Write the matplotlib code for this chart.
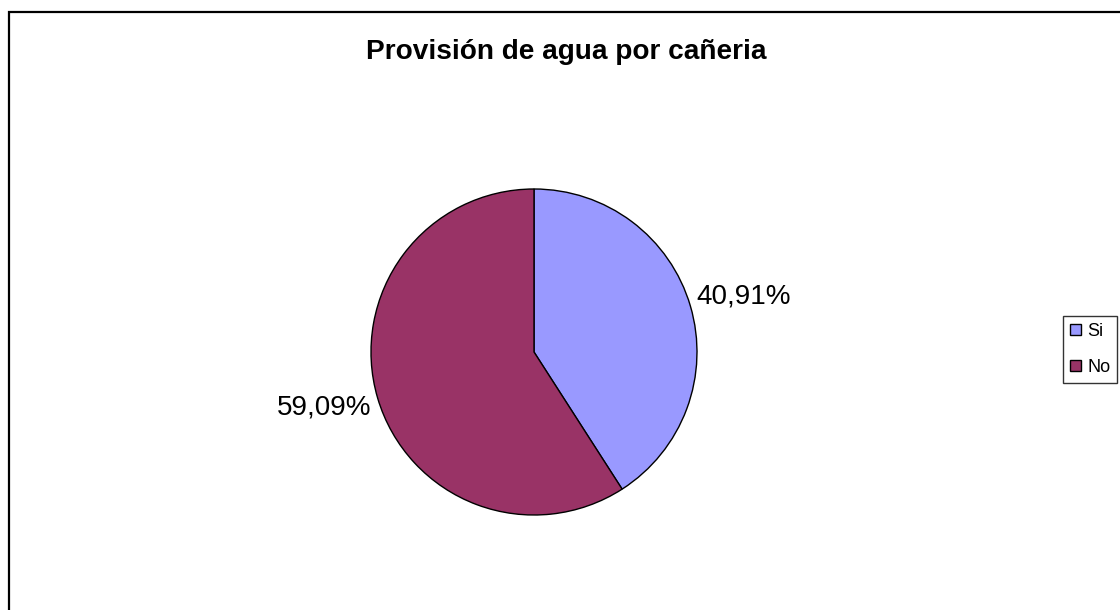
import numpy as np
import matplotlib
matplotlib.use("Agg")
import matplotlib.pyplot as plt
from matplotlib.patches import Rectangle

categories = ["Si", "No"]
values = [40.91, 59.09]
pct_labels = ["40,91%", "59,09%"]
colors = ["#9999FF", "#993366"]
title = "Provisión de agua por cañeria"

plt.rcParams['font.family'] = ['Liberation Sans', 'DejaVu Sans']

W, H = 1120, 610
fig = plt.figure(figsize=(W / 100, H / 100), dpi=100)
fig.patch.set_facecolor("white")

# pie axes: center (534,352), radius 163 px
cx, cy, r = 534, 352, 163
ax = fig.add_axes([(cx - r) / W, (H - cy - r) / H, 2 * r / W, 2 * r / H])
wedges, _ = ax.pie(values, colors=colors, startangle=90, counterclock=False,
                   radius=1.0, wedgeprops=dict(edgecolor="black", linewidth=1.0))
ax.set_xlim(-1, 1)
ax.set_ylim(-1, 1)
ax.set_aspect("equal")
ax.axis("off")

for w, lab in zip(wedges, pct_labels):
    th = np.deg2rad((w.theta1 + w.theta2) / 2)
    x = 1.04 * np.cos(th)
    y = 1.04 * np.sin(th) + 0.05 * np.sign(np.sin(th))
    ax.text(x, y, lab, ha="left" if x > 0 else "right", va="center",
            fontsize=20, color="black", clip_on=False)

fig.text(566.5 / W, 1 - 59 / H, title, ha="center", va="baseline",
         fontsize=20.2, fontweight="bold", color="black")

handles = [Rectangle((0, 0), 1, 1, facecolor=c, edgecolor="black", linewidth=1.0)
           for c in colors]
leg = fig.legend(handles, categories, loc="center left",
                 bbox_to_anchor=(1063 / W, 1 - 349.5 / H),
                 fontsize=13, frameon=True, fancybox=False,
                 handlelength=0.6, handleheight=0.6, handletextpad=0.35,
                 labelspacing=1.05, borderpad=0.38, borderaxespad=0)
leg.get_frame().set_edgecolor("black")
leg.get_frame().set_linewidth(1.0)

# outer chart border (extends off right/bottom)
fig.patches.append(Rectangle((8.5 / W, -0.05), 1.2, 1 - 11.5 / H + 0.05,
                             transform=fig.transFigure, fill=False,
                             edgecolor="black", linewidth=1.6))

fig.savefig("out.png", dpi=100)
